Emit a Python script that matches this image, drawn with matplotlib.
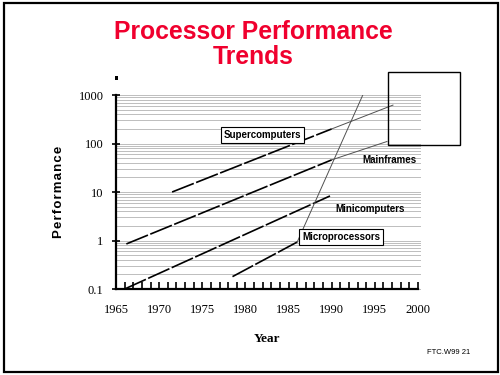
import matplotlib
matplotlib.use("Agg")
import matplotlib.pyplot as plt
from matplotlib.patches import Rectangle
from matplotlib.ticker import FixedLocator, NullFormatter

# trend lines (year, performance)
super_years = [1971.5, 1990]
super_perf = [10, 200]
super_ext_years = [1990, 1997.1]
super_ext_perf = [200, 620]

main_years = [1966.2, 1990]
main_perf = [0.85, 46]
main_ext_years = [1990, 1996.4]
main_ext_perf = [46, 110]

mini_years = [1966, 1989.8]
mini_perf = [0.1, 8.3]

micro_years = [1978.5, 1986]
micro_perf = [0.18, 0.93]
micro_ext_years = [1986, 1993.6]
micro_ext_perf = [0.93, 1000]

x_ticks = [1965, 1970, 1975, 1980, 1985, 1990, 1995, 2000]
y_ticks = [0.1, 1, 10, 100, 1000]
y_labels = ["0.1", "1", "10", "100", "1000"]

labels = [
    ("Supercomputers", 1982.0, 150, True),
    ("Mainframes", 1996.7, 46, False),
    ("Minicomputers", 1994.4, 4.5, False),
    ("Microprocessors", 1991.1, 1.18, True),
]

fig = plt.figure(figsize=(5, 3.75), dpi=100)
ax = fig.add_axes([0.232, 0.2293, 0.604, 0.5173])
ax.set_yscale("log")
ax.set_xlim(1965, 2000)
ax.set_ylim(0.1, 1000)

# horizontal grid at every log step
for dec in [0.1, 1, 10, 100]:
    for k in range(1, 10):
        ax.axhline(dec * k, color="#bdbdbd", lw=0.7, zorder=0, xmax=1.005, clip_on=False)
ax.axhline(1000, color="#bdbdbd", lw=0.7, zorder=0, xmax=1.005, clip_on=False)

dash = (0, (14, 1.5))
ax.plot(super_years, super_perf, color="black", lw=1.2, linestyle=dash)
ax.plot(main_years, main_perf, color="black", lw=1.2, linestyle=dash)
ax.plot(mini_years, mini_perf, color="black", lw=1.2, linestyle=dash)
ax.plot(micro_years, micro_perf, color="black", lw=1.2, linestyle=dash)
ax.plot(super_ext_years, super_ext_perf, color="#505050", lw=0.7)
ax.plot(main_ext_years, main_ext_perf, color="#505050", lw=0.7)
ax.plot(micro_ext_years, micro_ext_perf, color="#505050", lw=0.7)

for text, x, y, boxed in labels:
    bbox = dict(boxstyle="square,pad=0.3", fc="white", ec="black", lw=0.8) if boxed else None
    ax.text(x, y, text, ha="center", va="center", fontsize=7, fontweight="bold",
            family=["Liberation Sans", "DejaVu Sans"], bbox=bbox)

for s in ["top", "right"]:
    ax.spines[s].set_visible(False)
ax.spines["left"].set_linewidth(1.6)
ax.spines["bottom"].set_linewidth(1.6)

ax.xaxis.set_major_locator(FixedLocator(x_ticks))
ax.xaxis.set_minor_locator(FixedLocator(range(1965, 2001)))
ax.set_xticklabels([str(t) for t in x_ticks], family="Liberation Serif", fontsize=9)
ax.tick_params(axis="x", which="both", direction="in", length=5, width=1.2, pad=11)

ax.yaxis.set_major_locator(FixedLocator(y_ticks))
ax.yaxis.set_minor_locator(FixedLocator([]))
ax.yaxis.set_minor_formatter(NullFormatter())
ax.set_yticklabels(y_labels, family="Liberation Serif", fontsize=9)
ax.tick_params(axis="y", which="major", direction="inout", length=6, width=1.2, pad=6)

ax.set_xlabel("Year", family="Liberation Serif", fontweight="bold", fontsize=9.5, labelpad=12)
fig.text(0.118, 0.488, "\u200a".join("Performance"), rotation=90, ha="center", va="center",
         fontsize=9.5, fontweight="bold", family=["Liberation Sans", "DejaVu Sans"])

fig.text(0.506, 0.881, "Processor Performance\nTrends", ha="center", va="center",
         fontsize=17.8, fontweight="bold", color="#f0002e", linespacing=1.05,
         family="Liberation Sans")

fig.text(0.898, 0.059, "FTC.W99 21", ha="center", va="center", fontsize=5.5,
         family="Liberation Sans")

fig.patches.append(Rectangle((0.776, 0.6133), 0.144, 0.1947, transform=fig.transFigure,
                             fill=False, ec="black", lw=1.0))
fig.patches.append(Rectangle((0.229, 0.787), 0.006, 0.011, transform=fig.transFigure,
                             fc="black", ec="none"))
fig.patches.append(Rectangle((0.007, 0.008), 0.988, 0.984, transform=fig.transFigure,
                             fill=False, ec="black", lw=1.6))

fig.savefig("out.png", dpi=100)
